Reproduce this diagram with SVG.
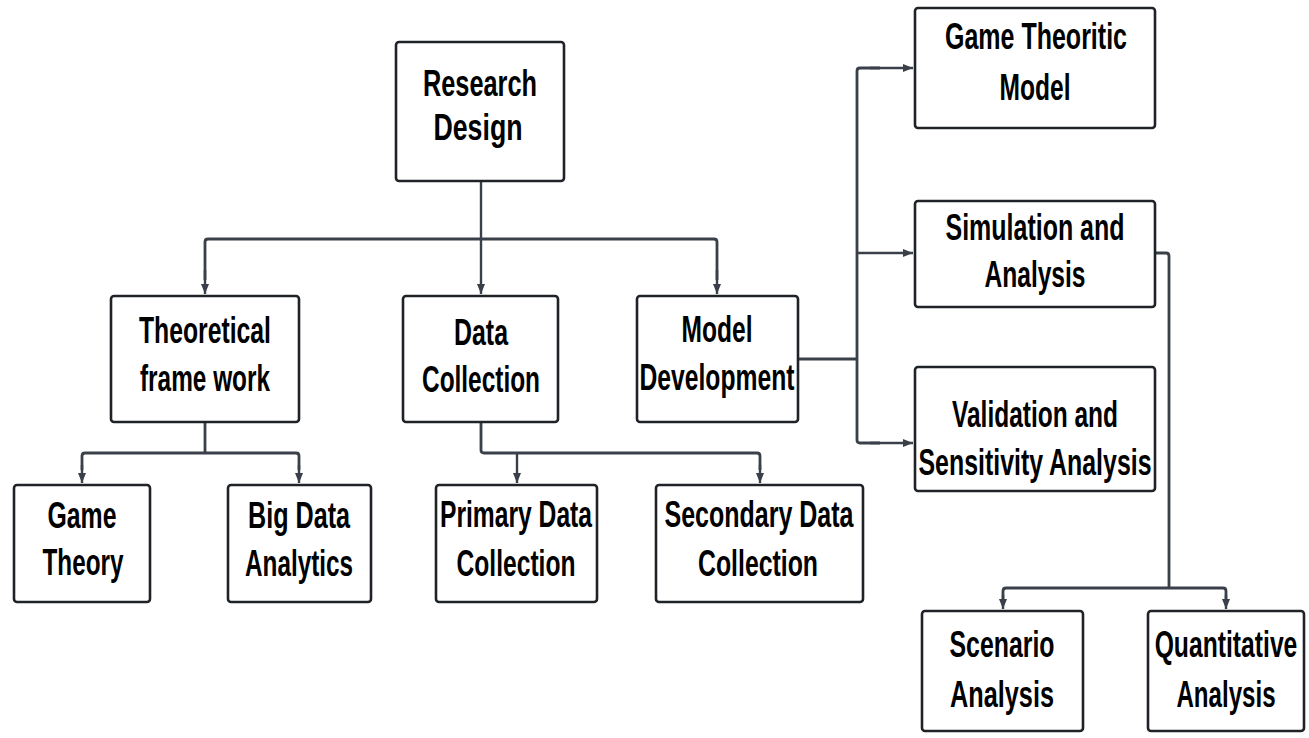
<svg xmlns="http://www.w3.org/2000/svg" width="1309" height="738" viewBox="0 0 1309 738">
<defs>
<style>
.box{fill:#ffffff;stroke:#1f2226;stroke-width:2.6}
.t{font-family:"Liberation Sans Narrow","Liberation Sans",Arial,sans-serif;font-weight:bold;font-size:37px;fill:#000;text-anchor:middle}
.c{fill:none;stroke:#3a4049;stroke-width:2.8;stroke-linejoin:round}
.a{fill:none;stroke:#3a4049;stroke-width:2.4;marker-end:url(#ah)}
</style>
<marker id="ah" markerUnits="userSpaceOnUse" markerWidth="12" markerHeight="10" refX="10" refY="5" orient="auto">
<path d="M0,1 L10,5 L0,9 Z" fill="#3a4049"/>
</marker>
</defs>
<rect width="1309" height="738" fill="#ffffff"/>
<g id="connectors">
<path class="c" d="M205,280 V242 Q205,239 208,239 H714 Q717,239 717,242 V280"/>
<path class="a" d="M205,270 V294"/>
<path class="a" d="M481,181 V294"/>
<path class="a" d="M717,270 V294"/>
<path class="c" d="M205,422 V453"/>
<path class="c" d="M82,470 V456 Q82,453 85,453 H296 Q299,453 299,456 V470"/>
<path class="a" d="M82,465 V483"/>
<path class="a" d="M299,465 V483"/>
<path class="c" d="M481,422 V450 Q481,453 484,453 H757 Q760,453 760,456 V470"/>
<path class="a" d="M517,453 V483"/>
<path class="a" d="M760,465 V483"/>
<path class="c" d="M798,359 H857"/>
<path class="c" d="M880,68 H860 Q857,68 857,71 V440 Q857,443 860,443 H880"/>
<path class="a" d="M870,68 H913"/>
<path class="a" d="M857,253 H913"/>
<path class="a" d="M870,443 H913"/>
<path class="c" d="M1155,253 H1166 Q1169,253 1169,256 V588"/>
<path class="c" d="M1003,600 V591 Q1003,588 1006,588 H1223 Q1226,588 1226,591 V600"/>
<path class="a" d="M1003,595 V609"/>
<path class="a" d="M1226,595 V609"/>
</g>
<g id="n-research-design">
<rect class="box" x="396" y="42" width="168" height="139" rx="3"/>
<text class="t" x="480" y="96" textLength="114" lengthAdjust="spacingAndGlyphs">Research</text>
<text class="t" x="478" y="140" textLength="89" lengthAdjust="spacingAndGlyphs">Design</text>
</g>
<g id="n-theoretical">
<rect class="box" x="111" y="296" width="188" height="126" rx="3"/>
<text class="t" x="205" y="343" textLength="132" lengthAdjust="spacingAndGlyphs">Theoretical</text>
<text class="t" x="205" y="391" textLength="130" lengthAdjust="spacingAndGlyphs">frame work</text>
</g>
<g id="n-data-collection">
<rect class="box" x="403" y="296" width="155" height="126" rx="3"/>
<text class="t" x="481" y="345" textLength="54" lengthAdjust="spacingAndGlyphs">Data</text>
<text class="t" x="481" y="392" textLength="118" lengthAdjust="spacingAndGlyphs">Collection</text>
</g>
<g id="n-model-development">
<rect class="box" x="637" y="296" width="161" height="126" rx="3"/>
<text class="t" x="717" y="342" textLength="71" lengthAdjust="spacingAndGlyphs">Model</text>
<text class="t" x="717" y="390" textLength="155" lengthAdjust="spacingAndGlyphs">Development</text>
</g>
<g id="n-game-theoritic-model">
<rect class="box" x="915" y="8" width="240" height="120" rx="3"/>
<text class="t" x="1036" y="49" textLength="182" lengthAdjust="spacingAndGlyphs">Game Theoritic</text>
<text class="t" x="1035" y="100" textLength="71" lengthAdjust="spacingAndGlyphs">Model</text>
</g>
<g id="n-simulation">
<rect class="box" x="915" y="201" width="240" height="106" rx="3"/>
<text class="t" x="1035" y="240" textLength="179" lengthAdjust="spacingAndGlyphs">Simulation and</text>
<text class="t" x="1035" y="287" textLength="101" lengthAdjust="spacingAndGlyphs">Analysis</text>
</g>
<g id="n-validation">
<rect class="box" x="915" y="367" width="240" height="124" rx="3"/>
<text class="t" x="1035" y="427" textLength="166" lengthAdjust="spacingAndGlyphs">Validation and</text>
<text class="t" x="1035" y="475" textLength="233" lengthAdjust="spacingAndGlyphs">Sensitivity Analysis</text>
</g>
<g id="n-game-theory">
<rect class="box" x="14" y="485" width="136" height="117" rx="3"/>
<text class="t" x="82" y="528" textLength="69" lengthAdjust="spacingAndGlyphs">Game</text>
<text class="t" x="83" y="575" textLength="81" lengthAdjust="spacingAndGlyphs">Theory</text>
</g>
<g id="n-big-data">
<rect class="box" x="228" y="485" width="143" height="117" rx="3"/>
<text class="t" x="299" y="528" textLength="102" lengthAdjust="spacingAndGlyphs">Big Data</text>
<text class="t" x="299" y="576" textLength="108" lengthAdjust="spacingAndGlyphs">Analytics</text>
</g>
<g id="n-primary">
<rect class="box" x="436" y="485" width="161" height="117" rx="3"/>
<text class="t" x="516" y="527" textLength="152" lengthAdjust="spacingAndGlyphs">Primary Data</text>
<text class="t" x="516" y="576" textLength="119" lengthAdjust="spacingAndGlyphs">Collection</text>
</g>
<g id="n-secondary">
<rect class="box" x="656" y="485" width="207" height="117" rx="3"/>
<text class="t" x="759" y="527" textLength="189" lengthAdjust="spacingAndGlyphs">Secondary Data</text>
<text class="t" x="758" y="576" textLength="120" lengthAdjust="spacingAndGlyphs">Collection</text>
</g>
<g id="n-scenario">
<rect class="box" x="922" y="611" width="161" height="120" rx="3"/>
<text class="t" x="1002" y="657" textLength="105" lengthAdjust="spacingAndGlyphs">Scenario</text>
<text class="t" x="1002" y="707" textLength="104" lengthAdjust="spacingAndGlyphs">Analysis</text>
</g>
<g id="n-quantitative">
<rect class="box" x="1148" y="611" width="156" height="120" rx="3"/>
<text class="t" transform="translate(1226,657) scale(0.67,1)" x="0" y="0" textLength="213" lengthAdjust="spacingAndGlyphs">Quantitative</text>
<text class="t" transform="translate(1226,707) scale(0.67,1)" x="0" y="0" textLength="148" lengthAdjust="spacingAndGlyphs">Analysis</text>
</g>
</svg>
